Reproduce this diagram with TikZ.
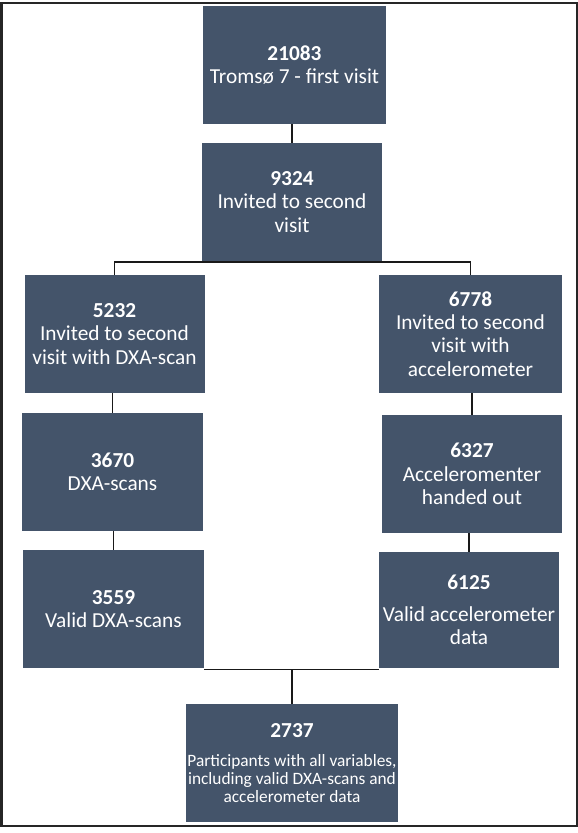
\documentclass[tikz,border=0pt]{standalone}
\usepackage{fontspec}
\setmainfont{Carlito}
\usetikzlibrary{backgrounds}
\definecolor{boxcol}{HTML}{44546A}
\begin{document}
\begin{tikzpicture}[x=0.75pt,y=-0.75pt,
  box/.style={fill=boxcol, text=white, align=center, inner sep=0pt,
    minimum height=88.5pt, font=\fontsize{16}{17.5}\selectfont},
  conn/.style={line width=1.1pt, draw=black!90, line cap=butt}]
\useasboundingbox (0,0) rectangle (578,833);
\draw[line width=1.5pt, draw=black!85] (1.5,2.5) rectangle (576.5,826);

\node[box, minimum width=137.25pt] (b1) at (294.5,65) {\textbf{21083}\\Tromsø 7 - first visit};
\node[box, minimum width=135pt] (b2) at (292,202) {\textbf{9324}\\Invited to second\\visit};
\node[box, minimum width=135pt] (b3) at (114.5,334) {\textbf{5232}\\Invited to second\\visit with DXA-scan};
\node[box, minimum width=137.25pt] (b4) at (470.5,334) {\textbf{6778}\\Invited to second\\visit with\\accelerometer};
\node[box, minimum width=135.75pt] (b5) at (112.5,472) {\textbf{3670}\\DXA-scans};
\node[box, minimum width=135pt] (b6) at (472,474) {\textbf{6327}\\Acceleromenter\\handed out};
\node[box, minimum width=135.75pt] (b7) at (113.5,609) {\textbf{3559}\\Valid DXA-scans};
\node[box, minimum width=135pt, minimum height=87pt] (b8) at (469,610) {\textbf{6125}\\[6.5pt]Valid accelerometer\\data};
\node[box, minimum width=159pt] (b9) at (292,763) {\textbf{2737}\\[4.25pt]\parbox[t]{158pt}{\centering\fontsize{13}{13.5}\selectfont Participants with all variables,\\including valid DXA-scans and\\accelerometer data}};

\begin{scope}[on background layer]
\draw[conn] (b1.south -| b2.north) -- (b2.north);
\draw[conn] (b3.north) |- ([yshift=-0.5pt]b2.south) -| (b4.north);
\draw[conn] (b3.south -| b5.north) -- (b5.north);
\draw[conn] (b4.south -| b6.north) -- (b6.north);
\draw[conn] (b5.south -| b7.north) -- (b7.north);
\draw[conn] (b6.south -| b8.north) -- (b8.north);
\draw[conn] ([yshift=-1pt]b7.south east) -- ([yshift=-1pt]b8.south west);
\draw[conn] (b9.north) -- ([yshift=-1pt]b9.north |- b7.south);
\end{scope}
\end{tikzpicture}
\end{document}
